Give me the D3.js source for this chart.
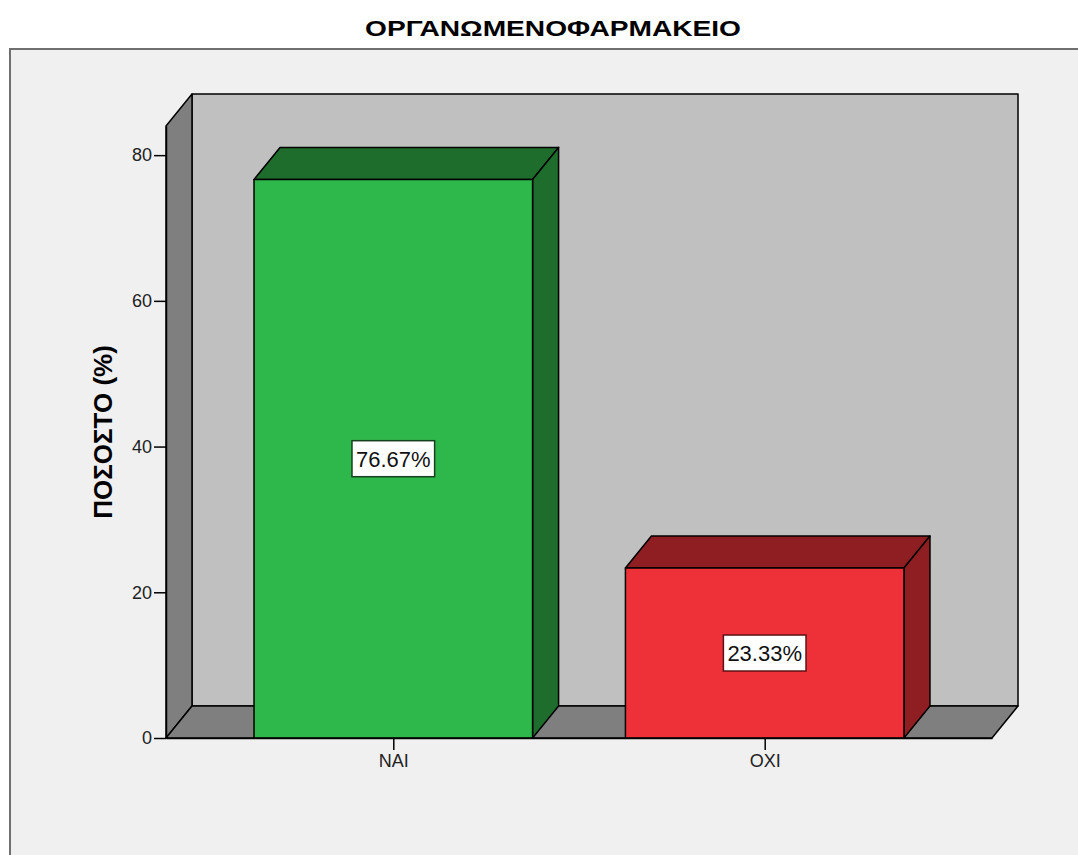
<!DOCTYPE html>
<html>
<head>
<meta charset="utf-8">
<script src="https://cdn.jsdelivr.net/npm/d3@7"></script>
<style>
  html, body { margin: 0; padding: 0; background: #ffffff; }
  svg { display: block; }
  text { font-family: "Liberation Sans", Arial, sans-serif; }
</style>
</head>
<body>
<svg id="chart" width="1078" height="855"></svg>
<script>
// Chart data
const chartTitle = "ΟΡΓΑΝΩΜΕΝΟΦΑΡΜΑΚΕΙΟ";
const yAxisTitle = "ΠΟΣΟΣΤΟ (%)";
const categories = ["ΝΑΙ", "ΟΧΙ"];
const percents = [76.67, 23.33];
const yTickValues = [0, 20, 40, 60, 80];
const faceColors = ["#2eb84b", "#ee3038"];
const shadeColors = ["#1f6d2d", "#8f1e23"];
const labelBorders = ["#183f1e", "#5c1214"];

const svg = d3.select("#chart");

// Plot frame geometry (front plane of the 3D box)
const plotLeft = 166, plotRight = 992, plotBottom = 738, plotTop = 126;
const depthX = 26, depthY = 32;

const y = d3.scaleLinear().domain([0, 84]).range([plotBottom, plotTop]);
const x = d3.scalePoint().domain(categories).range([plotLeft, plotRight]).padding(0.612);
const barWidth = x.step() * 0.75;

// Outer panel
svg.append("rect")
  .attr("x", 10).attr("y", 49)
  .attr("width", 1120).attr("height", 900)
  .attr("fill", "#f0f0f0")
  .attr("stroke", "#6f6f6f").attr("stroke-width", 2);

// Title (wide bold face)
svg.append("text")
  .attr("x", 553).attr("y", 36)
  .attr("text-anchor", "middle")
  .attr("font-size", 22).attr("font-weight", "bold")
  .attr("textLength", 376).attr("lengthAdjust", "spacingAndGlyphs")
  .attr("fill", "#000")
  .text(chartTitle);

const pts = a => a.map(p => p.join(",")).join(" ");
const walls = svg.append("g").attr("stroke", "#000").attr("stroke-width", 1.5).attr("stroke-linejoin", "round");

// Back wall
walls.append("polygon")
  .attr("fill", "#c0c0c0")
  .attr("points", pts([[plotLeft + depthX, plotTop - depthY], [plotRight + depthX, plotTop - depthY],
                       [plotRight + depthX, plotBottom - depthY], [plotLeft + depthX, plotBottom - depthY]]));
// Left side wall
walls.append("polygon")
  .attr("fill", "#7f7f7f")
  .attr("points", pts([[plotLeft, plotBottom], [plotLeft, plotTop], [plotLeft + depthX, plotTop - depthY], [plotLeft + depthX, plotBottom - depthY]]));
// Floor
walls.append("polygon")
  .attr("fill", "#7f7f7f")
  .attr("points", pts([[plotLeft, plotBottom], [plotRight, plotBottom], [plotRight + depthX, plotBottom - depthY], [plotLeft + depthX, plotBottom - depthY]]));

// Bars (front face, top face, right face)
const bars = svg.append("g").selectAll("g").data(categories).join("g")
  .attr("stroke", "#000").attr("stroke-width", 1.5).attr("stroke-linejoin", "round");

bars.each(function(c, i) {
  const g = d3.select(this);
  const x0 = x(c) - barWidth / 2, x1 = x(c) + barWidth / 2;
  const yTop = y(percents[i]), y0 = y(0);
  g.append("polygon").attr("fill", shadeColors[i])
    .attr("points", pts([[x0, yTop], [x1, yTop], [x1 + depthX, yTop - depthY], [x0 + depthX, yTop - depthY]]));
  g.append("polygon").attr("fill", shadeColors[i])
    .attr("points", pts([[x1, y0], [x1, yTop], [x1 + depthX, yTop - depthY], [x1 + depthX, y0 - depthY]]));
  g.append("rect").attr("fill", faceColors[i])
    .attr("x", x0).attr("y", yTop).attr("width", barWidth).attr("height", y0 - yTop);
});

// Axes
const yAxis = svg.append("g")
  .attr("transform", `translate(${plotLeft},0)`)
  .call(d3.axisLeft(y).tickValues(yTickValues).tickSize(12).tickSizeOuter(0).tickPadding(2));
const xAxis = svg.append("g")
  .attr("transform", `translate(0,${plotBottom})`)
  .call(d3.axisBottom(x).tickSize(12).tickSizeOuter(0).tickPadding(4));

[yAxis, xAxis].forEach(ax => {
  ax.select(".domain").attr("stroke", "#000").attr("stroke-width", 1.5);
  ax.selectAll(".tick line").attr("stroke", "#000").attr("stroke-width", 1.5);
  ax.selectAll(".tick text")
    .attr("font-family", "'Liberation Sans', Arial, sans-serif")
    .attr("font-size", 18).attr("fill", "#222");
});

// Y axis title
svg.append("text")
  .attr("transform", "translate(112,432) rotate(-90)")
  .attr("text-anchor", "middle")
  .attr("font-size", 26).attr("font-weight", "bold")
  .attr("fill", "#000")
  .text(yAxisTitle);

// Value labels in boxes at bar mid-height
const labels = svg.append("g").selectAll("g").data(categories).join("g")
  .attr("transform", (c, i) => `translate(${x(c)},${y(percents[i] / 2)})`);

labels.each(function(c, i) {
  const g = d3.select(this);
  const t = g.append("text")
    .attr("text-anchor", "middle")
    .attr("dy", "0.36em")
    .attr("font-size", 22)
    .attr("fill", "#111")
    .text(percents[i].toFixed(2) + "%");
  const w = t.node().getComputedTextLength() + 8;
  g.insert("rect", "text")
    .attr("x", -w / 2).attr("y", -18)
    .attr("width", w).attr("height", 36)
    .attr("fill", "#ffffff")
    .attr("stroke", labelBorders[i]).attr("stroke-width", 1.5);
});
</script>
</body>
</html>
